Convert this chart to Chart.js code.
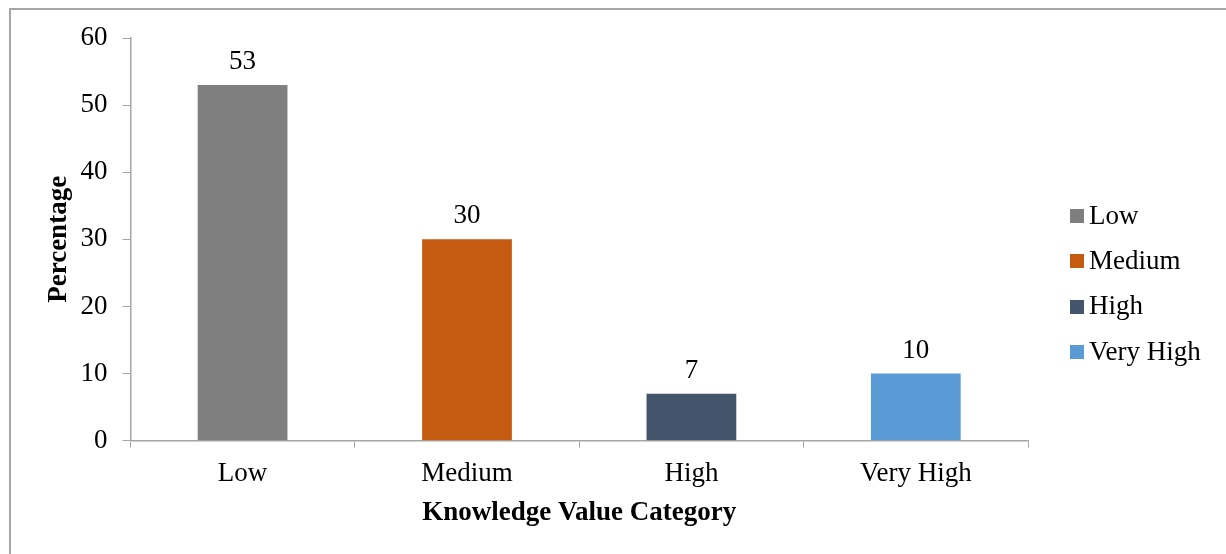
<!DOCTYPE html>
<html>
<head>
<meta charset="utf-8">
<script src="https://cdn.jsdelivr.net/npm/chart.js@4/dist/chart.umd.min.js"></script>
<style>
  html, body { margin: 0; padding: 0; background: #fff; overflow: hidden; }
  #frame { position: absolute; left: 9px; top: 8px; width: 1300px; height: 600px; border: 2px solid #a6a6a6; }
  #wrap { position: absolute; left: 0; top: 0; width: 1226px; height: 554px; }
  #legend { position: absolute; left: 1070px; top: 192.5px; font-family: 'Liberation Serif', 'Times New Roman', serif; font-size: 27px; color: #000; }
  #legend .item { display: flex; align-items: center; height: 45.3px; white-space: nowrap; }
  #legend .box { width: 14px; height: 14px; margin-right: 5px; margin-top: 2px; }
</style>
</head>
<body>
<div id="frame"></div>
<div id="wrap"><canvas id="chart"></canvas></div>
<div id="legend"></div>
<script>
// data
const categories = ['Low', 'Medium', 'High', 'Very High'];
const percentages = [53, 30, 7, 10];
const barColors = ['#7f7f7f', '#c55a11', '#44546a', '#5b9bd5'];
const yTicks = [0, 10, 20, 30, 40, 50, 60];

const serif = "'Liberation Serif', 'Times New Roman', serif";

// value above each bar
const valueLabels = {
  id: 'valueLabels',
  afterDatasetsDraw(chart) {
    const ctx = chart.ctx;
    const meta = chart.getDatasetMeta(0);
    ctx.save();
    ctx.font = '27px ' + serif;
    ctx.fillStyle = '#000';
    ctx.textAlign = 'center';
    ctx.textBaseline = 'alphabetic';
    meta.data.forEach((bar, i) => {
      ctx.fillText(String(percentages[i]), bar.x, bar.y - 16);
    });
    ctx.restore();
  }
};

// legend on the right, one entry per category
const legend = document.querySelector('#legend');
categories.forEach((c, i) => {
  const item = document.createElement('div');
  item.className = 'item';
  item.innerHTML = '<span class="box" style="background:' + barColors[i] + '"></span><span>' + c + '</span>';
  legend.appendChild(item);
});

const ctx = document.querySelector('#chart').getContext('2d');

new Chart(ctx, {
  type: 'bar',
  data: {
    labels: categories,
    datasets: [{
      label: 'Percentage',
      data: percentages,
      backgroundColor: barColors,
      categoryPercentage: 1,
      barPercentage: 0.4
    }]
  },
  options: {
    responsive: true,
    maintainAspectRatio: false,
    animation: false,
    layout: { padding: { top: 38, left: 43, right: 198, bottom: 24.5 } },
    plugins: {
      tooltip: { enabled: false },
      legend: { display: false }
    },
    scales: {
      x: {
        grid: { drawOnChartArea: false, color: '#a6a6a6', tickLength: 7, offset: true },
        border: { color: '#a6a6a6', width: 1.5 },
        ticks: { color: '#000', padding: 10, font: { family: serif, size: 27 } },
        title: { display: true, text: 'Knowledge Value Category', color: '#000', padding: { top: -3, bottom: 0 }, font: { family: serif, size: 27, weight: 'bold' } }
      },
      y: {
        min: 0,
        max: 60,
        afterBuildTicks: axis => { axis.ticks = yTicks.map(v => ({ value: v })); },
        grid: { drawOnChartArea: false, color: '#a6a6a6', tickLength: 8 },
        border: { color: '#a6a6a6', width: 1.5 },
        ticks: { color: '#000', padding: 15, font: { family: serif, size: 27 } },
        title: { display: true, text: 'Percentage', color: '#000', padding: { top: 0, bottom: -10 }, font: { family: serif, size: 27, weight: 'bold' } }
      }
    }
  },
  plugins: [valueLabels]
});
</script>
</body>
</html>
